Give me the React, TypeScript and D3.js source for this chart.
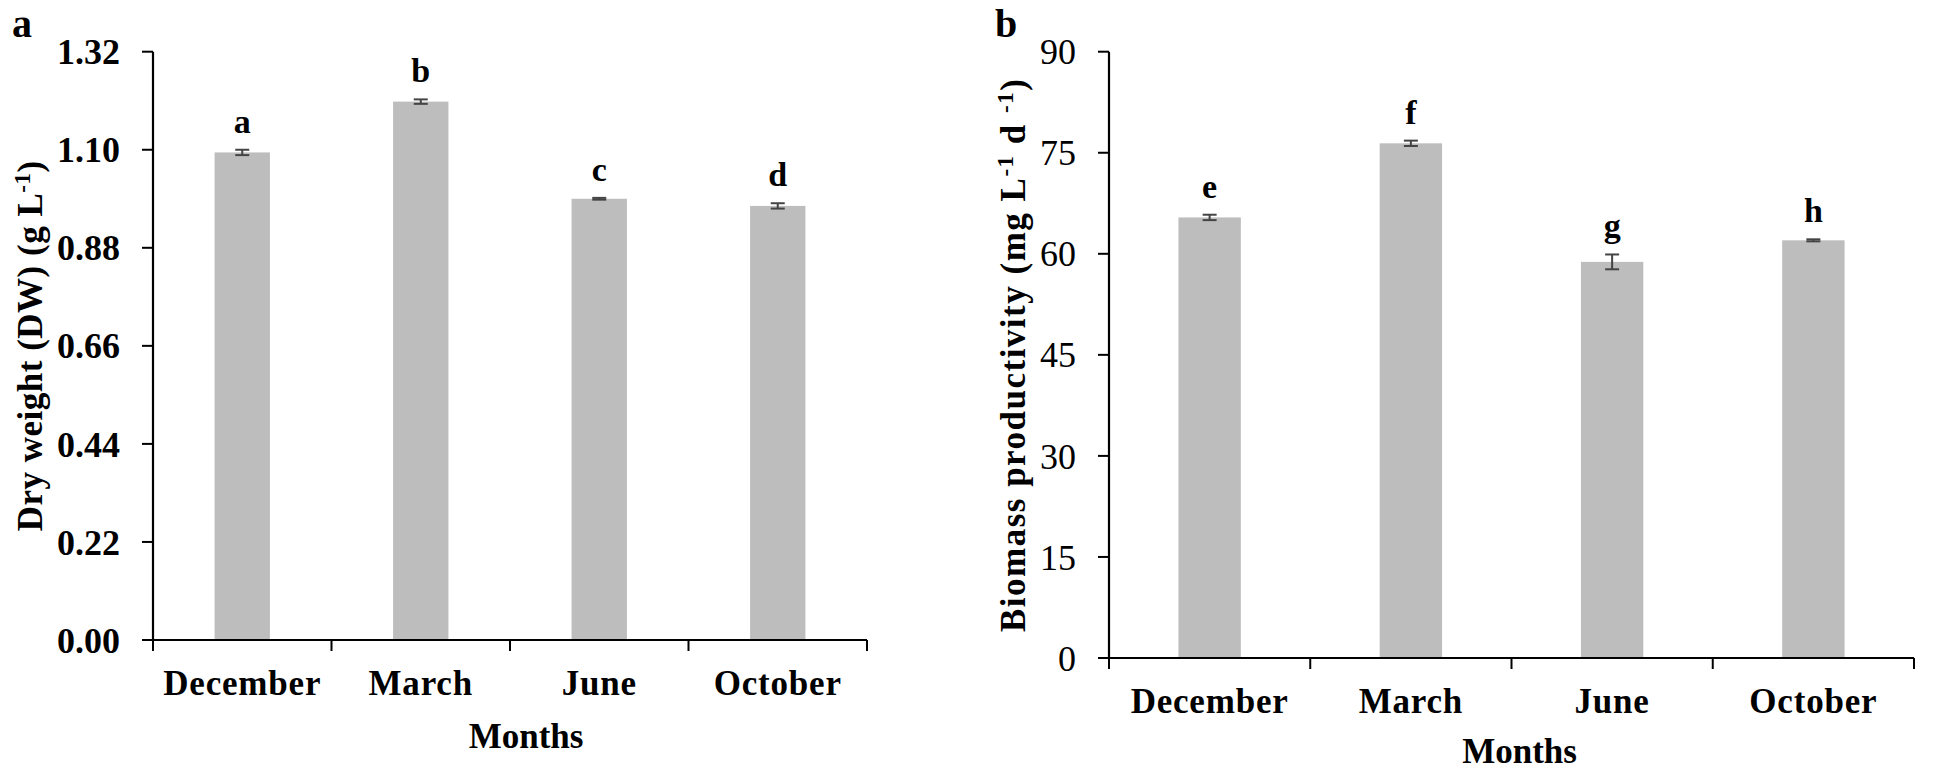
import React from 'react';
import * as d3 from 'd3';

const months = ['December', 'March', 'June', 'October'];

// panel a: dry weight (g/L)
const dryWeight = [1.094, 1.208, 0.99, 0.974];
const dryWeightErr = [0.006, 0.005, 0.002, 0.006];
const dryWeightLetters = ['a', 'b', 'c', 'd'];
const dryWeightTicks = [0, 0.22, 0.44, 0.66, 0.88, 1.1, 1.32];

// panel b: biomass productivity (mg/L/d)
const productivity = [65.4, 76.4, 58.8, 62.0];
const productivityErr = [0.4, 0.4, 1.1, 0.15];
const productivityLetters = ['e', 'f', 'g', 'h'];
const productivityTicks = [0, 15, 30, 45, 60, 75, 90];

const FONT = '"Liberation Serif", "Times New Roman", serif';
const BAR = '#bdbdbd';

type PanelProps = {
  tag: string;
  tagX: number;
  left: number;
  right: number;
  top: number;
  bottom: number;
  values: number[];
  errors: number[];
  letters: string[];
  ticks: number[];
  tickFormat: (v: number) => string;
  tickBold: boolean;
  titleX: number;
  titleSpacing: number;
  title: React.ReactNode;
  monthsDx: number;
  monthsDy: number;
};

const Panel = (p: PanelProps) => {
  const x = d3.scaleBand<string>()
    .domain(months)
    .range([p.left, p.right])
    .paddingInner(0.69)
    .paddingOuter(0.345);
  const y = d3.scaleLinear()
    .domain([0, d3.max(p.ticks) as number])
    .range([p.bottom, p.top]);

  const step = x.step();
  const bw = x.bandwidth();
  const edges = [p.left, ...months.map(m => (x(m) as number) + bw / 2 + step / 2)];

  return (
    <g>
      <text x={p.tagX} y={37} fontFamily={FONT} fontWeight="bold" fontSize={40}>{p.tag}</text>

      {months.map((m, i) => {
        const cx = (x(m) as number) + bw / 2;
        const v = p.values[i];
        const e = p.errors[i];
        return (
          <g key={m}>
            <rect x={x(m)} y={y(v)} width={bw} height={p.bottom - y(v)} fill={BAR} />
            <line x1={cx} x2={cx} y1={y(v + e)} y2={y(v - e)} stroke="#444" strokeWidth={2} />
            <line x1={cx - 7} x2={cx + 7} y1={y(v + e)} y2={y(v + e)} stroke="#444" strokeWidth={2} />
            <line x1={cx - 7} x2={cx + 7} y1={y(v - e)} y2={y(v - e)} stroke="#444" strokeWidth={2} />
            <text x={cx} y={y(v + e) - 17} textAnchor="middle" fontFamily={FONT}
              fontWeight="bold" fontSize={34}>{p.letters[i]}</text>
            <text x={cx} y={p.bottom + 55} textAnchor="middle" fontFamily={FONT}
              fontWeight="bold" fontSize={35} letterSpacing={0.8}>{m}</text>
          </g>
        );
      })}

      {/* y axis */}
      <line x1={p.left} x2={p.left} y1={p.top} y2={p.bottom} stroke="#000" strokeWidth={2.2} />
      {p.ticks.map(t => (
        <g key={t}>
          <line x1={p.left - 11} x2={p.left} y1={y(t)} y2={y(t)} stroke="#000" strokeWidth={2} />
          <text x={p.left - 33} y={y(t)} dy="0.35em" textAnchor="end" fontFamily={FONT}
            fontWeight={p.tickBold ? 'bold' : 'normal'} fontSize={36}>{p.tickFormat(t)}</text>
        </g>
      ))}

      {/* x axis */}
      <line x1={p.left - 11} x2={p.right} y1={p.bottom} y2={p.bottom} stroke="#000" strokeWidth={2.2} />
      {edges.map((ex, i) => (
        <line key={i} x1={ex} x2={ex} y1={p.bottom} y2={p.bottom + 11} stroke="#000" strokeWidth={2} />
      ))}

      <text x={(p.left + p.right) / 2 + p.monthsDx} y={p.bottom + p.monthsDy} textAnchor="middle"
        fontFamily={FONT} fontWeight="bold" fontSize={35}>Months</text>

      <text transform={`translate(${p.titleX},${(p.top + p.bottom) / 2}) rotate(-90)`}
        textAnchor="middle" fontFamily={FONT} fontWeight="bold" fontSize={35}
        letterSpacing={p.titleSpacing}>{p.title}</text>
    </g>
  );
};

export default function App() {
  return (
    <div style={{ position: 'absolute', left: 0, top: 0 }}>
      <svg width={1947} height={772} style={{ display: 'block', background: '#fff' }}>
        <Panel
          tag="a" tagX={12}
          left={153} right={867} top={51.7} bottom={640}
          values={dryWeight} errors={dryWeightErr} letters={dryWeightLetters}
          ticks={dryWeightTicks} tickFormat={d3.format('.2f')} tickBold={true}
          titleX={42} titleSpacing={0.5}
          title={<>Dry weight (DW) (g L<tspan dy={-12} fontSize={23}>-1</tspan><tspan dy={12}>)</tspan></>}
          monthsDx={16} monthsDy={108}
        />
        <Panel
          tag="b" tagX={995}
          left={1109} right={1914} top={51.7} bottom={658}
          values={productivity} errors={productivityErr} letters={productivityLetters}
          ticks={productivityTicks} tickFormat={d3.format('d')} tickBold={false}
          titleX={1025} titleSpacing={1.5}
          title={<>Biomass productivity  (mg L<tspan dy={-12} fontSize={23}>-1</tspan><tspan dy={12}> d </tspan><tspan dy={-12} fontSize={23}>-1</tspan><tspan dy={12}>)</tspan></>}
          monthsDx={8} monthsDy={105}
        />
      </svg>
    </div>
  );
}
